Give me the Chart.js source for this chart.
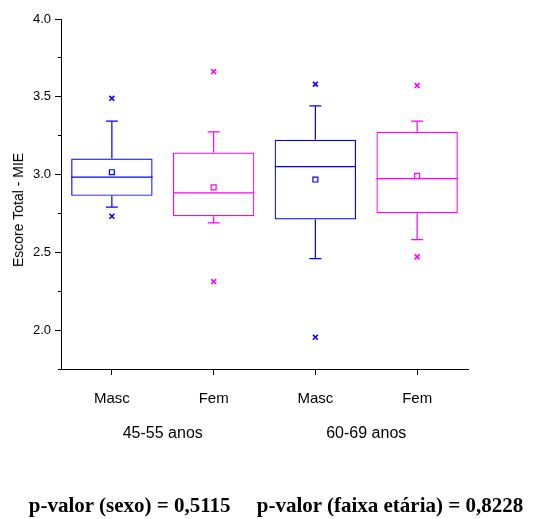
<!DOCTYPE html>
<html>
<head>
<meta charset="utf-8">
<title>Escore Total - MIE</title>
<script src="https://cdn.jsdelivr.net/npm/chart.js@4.4.1/dist/chart.umd.min.js"></script>
<style>
  body { margin: 0; background: #fff; }
  #wrap { position: relative; width: 538px; height: 519px; }
  #yTitle {
    position: absolute; left: 18px; top: 210px;
    transform: translate(-50%, -50%) rotate(-90deg);
    font: 14px "Liberation Sans", Arial, sans-serif; color: #000; white-space: nowrap;
  }
  #pValues {
    position: absolute; left: 276px; top: 505px;
    transform: translate(-50%, -50%);
    font: bold 21px "Liberation Serif", "Times New Roman", serif; color: #000;
    white-space: pre;
  }
</style>
</head>
<body>
<div id="wrap">
  <canvas id="chart" width="538" height="519"></canvas>
  <div id="yTitle">Escore Total - MIE</div>
  <div id="pValues"></div>
</div>
<script>
const categories = ['Masc', 'Fem', 'Masc', 'Fem'];
const groups = ['45-55 anos', '60-69 anos'];
const boxColors = ['#0000ff', '#ff00ff', '#0000ff', '#ff00ff'];

const q1 = [2.863, 2.732, 2.711, 2.751];
const medians = [2.983, 2.882, 3.051, 2.974];
const q3 = [3.103, 3.141, 3.223, 3.275];
const whiskerLow = [2.79, 2.69, 2.46, 2.582];
const whiskerHigh = [3.343, 3.275, 3.442, 3.343];
const means = [3.015, 2.918, 2.968, 2.992];
const outHigh = [3.49, 3.662, 3.581, 3.572];
const outLow = [2.732, 2.312, 1.954, 2.471];

const pText = 'p-valor (sexo) = 0,5115     p-valor (faixa etária) = 0,8228';
document.getElementById('pValues').textContent = pText;

// medians + whiskers, drawn from the bar elements and the y scale
const whiskerPlugin = {
  id: 'whiskers',
  beforeDatasetsDraw(chart) {
    const ctx = chart.ctx;
    const y = chart.scales.y;
    const bars = chart.getDatasetMeta(0).data;
    ctx.save();
    ctx.lineWidth = 1.2;
    bars.forEach((bar, i) => {
      const x = bar.x;
      const half = bar.width / 2;
      const cap = 6;
      ctx.strokeStyle = boxColors[i];
      ctx.beginPath();
      ctx.moveTo(x - half, y.getPixelForValue(medians[i]));
      ctx.lineTo(x + half, y.getPixelForValue(medians[i]));
      ctx.moveTo(x, y.getPixelForValue(q3[i]));
      ctx.lineTo(x, y.getPixelForValue(whiskerHigh[i]));
      ctx.moveTo(x - cap, y.getPixelForValue(whiskerHigh[i]));
      ctx.lineTo(x + cap, y.getPixelForValue(whiskerHigh[i]));
      ctx.moveTo(x, y.getPixelForValue(q1[i]));
      ctx.lineTo(x, y.getPixelForValue(whiskerLow[i]));
      ctx.moveTo(x - cap, y.getPixelForValue(whiskerLow[i]));
      ctx.lineTo(x + cap, y.getPixelForValue(whiskerLow[i]));
      ctx.stroke();
    });
    ctx.restore();
  }
};

const font = '"Liberation Sans", Arial, sans-serif';

new Chart(document.getElementById('chart'), {
  type: 'bar',
  data: {
    labels: categories,
    datasets: [
      {
        type: 'bar',
        data: categories.map((c, i) => [q1[i], q3[i]]),
        backgroundColor: 'rgba(0,0,0,0)',
        borderColor: boxColors,
        borderWidth: 1.2,
        borderSkipped: false,
        barPercentage: 0.8,
        categoryPercentage: 1.0
      },
      {
        type: 'line',
        data: means,
        showLine: false,
        pointStyle: 'rect',
        pointRadius: 3.5,
        pointBorderWidth: 1.2,
        pointBorderColor: boxColors,
        pointBackgroundColor: '#fff'
      },
      {
        type: 'line',
        data: outHigh,
        showLine: false,
        pointStyle: 'crossRot',
        pointRadius: 3.5,
        pointBorderWidth: 1.6,
        pointBorderColor: boxColors
      },
      {
        type: 'line',
        data: outLow,
        showLine: false,
        pointStyle: 'crossRot',
        pointRadius: 3.5,
        pointBorderWidth: 1.6,
        pointBorderColor: boxColors
      }
    ]
  },
  options: {
    responsive: false,
    animation: false,
    layout: { padding: { top: 19, right: 70, left: 0, bottom: 70 } },
    plugins: {
      legend: { display: false },
      tooltip: { enabled: false }
    },
    scales: {
      x: {
        type: 'category',
        position: 'bottom',
        weight: 0,
        offset: true,
        afterFit(s) { s.height = 40; },
        grid: { offset: false, drawOnChartArea: false, tickLength: 6, color: '#000' },
        border: { color: '#000', width: 1 },
        ticks: { autoSkip: false, maxRotation: 0, color: '#000', padding: 15, font: { family: font, size: 15 } }
      },
      x2: {
        type: 'category',
        position: 'bottom',
        weight: 1,
        labels: groups,
        offset: true,
        afterFit(s) { s.height = 40; },
        grid: { display: false },
        border: { display: false },
        ticks: { autoSkip: false, maxRotation: 0, color: '#000', padding: 7, font: { family: font, size: 16 } }
      },
      y: {
        type: 'linear',
        position: 'left',
        weight: 1,
        min: 1.75,
        max: 4.0,
        afterFit(s) { s.width = 61; },
        grid: { drawOnChartArea: false, tickLength: 6, color: '#000' },
        border: { color: '#000', width: 1 },
        ticks: {
          stepSize: 0.5,
          includeBounds: false,
          color: '#000',
          padding: 4,
          font: { family: font, size: 13 },
          callback: v => v.toFixed(1)
        }
      },
      // minor ticks every 0.25
      yMinor: {
        type: 'linear',
        position: 'left',
        weight: 0,
        min: 1.75,
        max: 4.0,
        afterFit(s) { s.width = 0; },
        grid: { drawOnChartArea: false, tickLength: 3, color: '#000' },
        border: { display: false },
        ticks: { stepSize: 0.25, includeBounds: false, display: false }
      }
    }
  },
  plugins: [whiskerPlugin]
});
</script>
</body>
</html>
